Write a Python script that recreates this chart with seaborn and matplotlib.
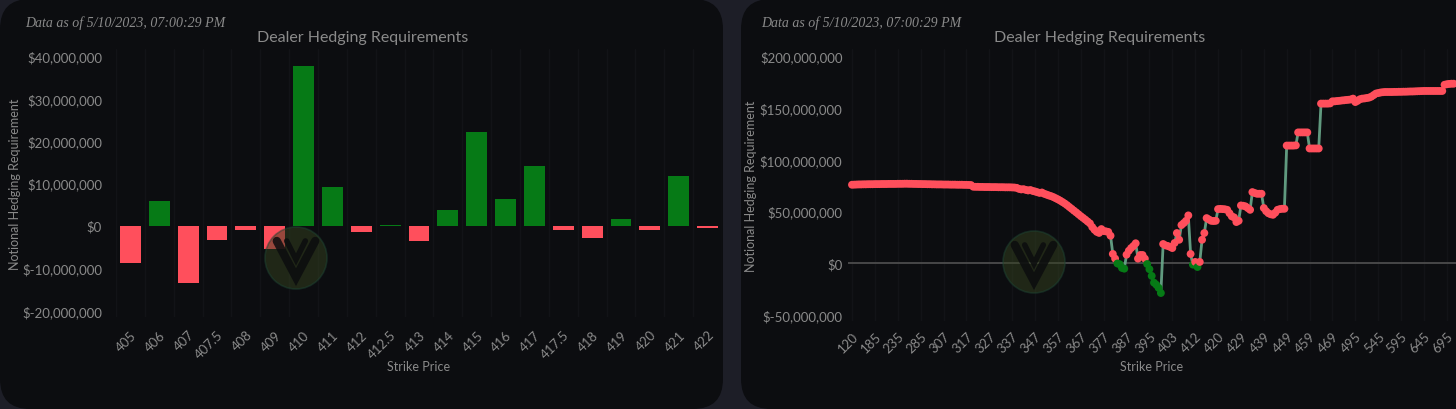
import matplotlib
matplotlib.use("Agg")
import matplotlib.pyplot as plt
import seaborn as sns
import numpy as np
import pandas as pd
from matplotlib.patches import FancyBboxPatch, Circle
from matplotlib.ticker import FuncFormatter, FixedLocator

# ---------------- data ----------------
bar_strikes = ["405", "406", "407", "407.5", "408", "409", "410", "411", "412", "412.5",
               "413", "414", "415", "416", "417", "417.5", "418", "419", "420", "421", "422"]
bar_values_m = [-8.9, 5.7, -13.5, -3.45, -0.95, -5.4, 37.6, 9.2, -1.55, 0.15,
                -3.7, 3.7, 22.1, 6.2, 14.0, -0.95, -2.8, 1.65, -1.1, 11.7, -0.45]

line_strikes = ([120, 125, 130, 135, 140, 145, 150, 155, 160, 170,
                 185, 190, 195, 200, 205, 210, 215, 220, 225, 230,
                 235, 240, 245, 250, 255, 260, 265, 270, 275, 280,
                 285, 290, 292, 294, 295, 297, 299, 300, 302, 305]
                + list(range(307, 387))
                + [387, 388, 389, 390, 391, 392, 392.5, 393, 393.5, 394,
                   395, 396, 397, 397.5, 398, 399, 400, 401, 402, 402.5,
                   403, 404, 405, 406, 407, 407.5, 408, 409, 410, 411,
                   412, 412.5, 413, 414, 415, 416, 417, 417.5, 418, 419,
                   420, 421, 422, 422.5, 423, 424, 425, 426, 427, 428]
                + list(range(429, 469))
                + [469, 470, 471, 472, 473, 474, 475, 480, 485, 490]
                + list(range(495, 715, 5)))

line_values_m = [
    75.5, 75.6, 75.7, 75.8, 75.8, 75.9, 75.9, 76.0, 76.0, 76.0,
    76.1, 76.1, 76.1, 76.2, 76.2, 76.2, 76.3, 76.3, 76.3, 76.3,
    76.4, 76.4, 76.4, 76.5, 76.5, 76.4, 76.4, 76.3, 76.3, 76.2,
    76.2, 76.1, 76.1, 76.0, 76.0, 75.9, 75.9, 75.8, 75.8, 75.8,
    75.7, 75.7, 75.7, 75.6, 75.6, 75.6, 75.5, 75.5, 75.5, 75.4,
    75.4, 75.3, 75.2, 73.6, 73.5, 73.5, 73.4, 73.4, 73.3, 73.3,
    73.3, 73.2, 73.2, 73.2, 73.1, 73.1, 73.1, 73.0, 73.0, 73.0,
    72.9, 72.8, 72.5, 71.5, 71.0, 71.2, 70.5, 70.0, 70.4, 69.5,
    69.0, 68.3, 67.6, 68.0, 66.8, 66.0, 65.2, 64.5, 63.6, 62.5,
    61.4, 60.2, 58.8, 57.4, 55.8, 54.0, 52.3, 50.5, 48.8, 47.0,
    45.2, 43.5, 41.8, 40.0, 38.2, 34.7, 32.0, 30.0, 29.0, 32.7,
    30.8, 30.5, 30.0, 26.3, 8.7, 4.2, -0.5, -1.2, -4.8, -5.5,
    8.0, 11.8, 14.4, 16.4, 19.0, 4.2, 7.7, 7.7, 4.2, -1.0,
    -6.0, -12.5, -19.0, -21.0, -24.0, -29.0, 18.3, 17.0, 16.4, 15.5,
    14.4, 19.3, 28.9, 22.4, 36.6, 38.5, 40.7, 45.9, 8.7, -1.6,
    1.0, -3.9, 1.0, 22.4, 28.9, 43.3, 42.0, 40.7, 40.5, 40.7,
    52.0, 52.2, 52.0, 51.8, 51.3, 48.0, 45.0, 44.0, 39.5, 40.7,
    55.5, 55.2, 54.6, 53.0, 51.3, 68.4, 67.5, 66.8, 66.8, 66.8,
    53.0, 50.0, 48.0, 47.0, 46.5, 48.5, 51.3, 52.0, 52.3, 52.3,
    113.3, 113.3, 113.3, 113.3, 113.5, 126.0, 126.0, 126.0, 126.0, 126.0,
    110.5, 110.5, 110.5, 110.5, 110.5, 153.8, 153.8, 153.8, 153.8, 154.0,
    156.0, 156.0, 156.3, 156.5, 156.8, 157.0, 157.3, 157.5, 157.8, 158.6,
    155.3, 156.5, 158.0, 158.6, 158.8, 159.2, 159.6, 160.5, 162.0, 163.5,
    164.0, 164.5, 164.8, 165.0, 165.0, 165.0, 165.0, 165.1, 165.1, 165.2,
    165.2, 165.3, 165.3, 165.4, 165.5, 165.5, 165.6, 165.7, 165.8, 165.9,
    166.0, 166.0, 166.0, 166.0, 166.0, 166.0, 166.0, 166.0, 166.0, 172.0,
    172.5, 172.8, 173.0, 173.0,
]

left_yticks_m = [-20, -10, 0, 10, 20, 30, 40]
right_yticks_m = [-50, 0, 50, 100, 150, 200]
timestamp = "Data as of 5/10/2023, 07:00:29 PM"
title = "Dealer Hedging Requirements"
xlabel = "Strike Price"
ylabel = "Notional Hedging Requirement"

# ---------------- style ----------------
W, H = 1456, 410
OUTER = "#1d1e27"
PANEL = "#0c0d10"
TXT = "#8a8a8a"
RED = "#ff4f5c"
GREEN = "#067a16"
LINE = "#6aaa8c"
GRID = "#121317"

sns.set_theme(style="dark")
plt.rcParams["font.family"] = ["Lato", "DejaVu Sans"]

fig = plt.figure(figsize=(W / 100, H / 100), dpi=100, facecolor=OUTER)

bg = fig.add_axes([0, 0, 1, 1], zorder=0)
bg.set_xlim(0, W); bg.set_ylim(H, 0); bg.axis("off")
bg.add_patch(FancyBboxPatch((0, 0), 723, 410, boxstyle="round,pad=0,rounding_size=30",
                            fc=PANEL, ec="none"))
bg.add_patch(FancyBboxPatch((741, 0), 760, 410, boxstyle="round,pad=0,rounding_size=30",
                            fc=PANEL, ec="none"))


def fig_rect(x0, y0, x1, y1):
    return [x0 / W, (H - y1) / H, (x1 - x0) / W, (y1 - y0) / H]


def money(v, _=None):
    return "$" + format(int(round(v * 1e6)), ",")


def style_axes(ax):
    ax.set_facecolor(PANEL)
    for s in ax.spines.values():
        s.set_visible(False)
    ax.tick_params(axis="both", length=0, colors=TXT, labelsize=9.5)
    ax.set_xlabel(xlabel, color=TXT, fontsize=9)
    ax.set_ylabel(ylabel, color=TXT, fontsize=9)


# ---------------- left: bars ----------------
axL = fig.add_axes(fig_rect(116, 50, 722, 318), zorder=1)
dfL = pd.DataFrame({"strike": bar_strikes, "value": bar_values_m})
dfL["sign"] = np.where(dfL["value"] >= 0, "pos", "neg")
sns.barplot(data=dfL, x="strike", y="value", hue="sign", order=bar_strikes,
            palette={"pos": GREEN, "neg": RED}, dodge=False, width=0.72,
            saturation=1, legend=False, edgecolor="none", linewidth=0, ax=axL)
axL.set_xlim(-0.5, len(bar_strikes) - 0.5)
axL.set_ylim(-21.5, 41.6)
axL.yaxis.set_major_locator(FixedLocator(left_yticks_m))
axL.yaxis.set_major_formatter(FuncFormatter(money))
style_axes(axL)
axL.set_xticks(range(len(bar_strikes)))
axL.set_xticklabels(bar_strikes, rotation=45, ha="right", rotation_mode="anchor")
axL.tick_params(axis="x", pad=8)
axL.tick_params(axis="y", pad=10)
for b in np.arange(-0.5, len(bar_strikes), 1.0):
    axL.axvline(b, color=GRID, lw=1, zorder=0)
axL.yaxis.set_label_coords(-0.157, 0.5)
axL.xaxis.set_label_coords(0.5, -0.160)

# ---------------- right: line ----------------
axR = fig.add_axes(fig_rect(848, 50, 1456, 322), zorder=1)
dfR = pd.DataFrame({"pos": np.arange(len(line_strikes)), "strike": line_strikes,
                    "value": line_values_m})
dfR["sign"] = np.where(dfR["value"] >= 0, "pos", "neg")
axR.axhline(0, color="#4c4c4c", lw=1.3, zorder=1)
sns.lineplot(data=dfR, x="pos", y="value", color=LINE, lw=2, alpha=0.9,
             ax=axR, zorder=2)
sns.scatterplot(data=dfR, x="pos", y="value", hue="sign",
                palette={"pos": RED, "neg": GREEN}, s=32, linewidth=0,
                legend=False, ax=axR, zorder=3)
axR.set_xlim(-1.75, 264.0)
axR.set_ylim(-56.0, 206.5)
axR.yaxis.set_major_locator(FixedLocator(right_yticks_m))
axR.yaxis.set_major_formatter(FuncFormatter(money))
style_axes(axR)
tick_pos = list(range(0, len(line_strikes), 10))
tick_lab = [format(line_strikes[i], "g") for i in tick_pos]
axR.set_xticks(tick_pos)
axR.set_xticklabels(tick_lab, rotation=45, ha="right", rotation_mode="anchor")
axR.tick_params(axis="x", pad=6)
axR.tick_params(axis="y", pad=4)
for p in tick_pos:
    axR.axvline(p, color=GRID, lw=1, zorder=0)
axR.yaxis.set_label_coords(-0.150, 0.5)
axR.xaxis.set_label_coords(0.5, -0.143)

# ---------------- texts ----------------
over = fig.add_axes([0, 0, 1, 1], zorder=5)
over.set_xlim(0, W); over.set_ylim(H, 0); over.axis("off")
over.patch.set_alpha(0)
for x0, tx in [(25, 363), (761, 1100)]:
    over.text(x0, 23, timestamp, family=["Liberation Serif", "DejaVu Serif"],
              style="italic", fontsize=10, color=TXT, ha="left", va="center")
    over.text(tx, 38, title, fontsize=11.5, color=TXT, ha="center", va="center")

# watermark logos
for cx, cy in [(296, 259), (1034, 263)]:
    r = 31
    over.add_patch(Circle((cx, cy), r, fc="#34421f", ec="#1e4433", lw=1.2, alpha=0.5))
    over.plot([cx - 0.62 * r, cx, cx + 0.62 * r], [cy - 0.55 * r, cy + 0.62 * r, cy - 0.55 * r],
              color="#0b0c0e", lw=6, alpha=0.85, solid_joinstyle="miter")
    over.plot([cx - 0.3 * r, cx, cx + 0.3 * r], [cy - 0.55 * r, cy + 0.05 * r, cy - 0.55 * r],
              color="#0b0c0e", lw=4, alpha=0.85, solid_joinstyle="miter")

fig.savefig("out.png", dpi=100, facecolor=OUTER)
